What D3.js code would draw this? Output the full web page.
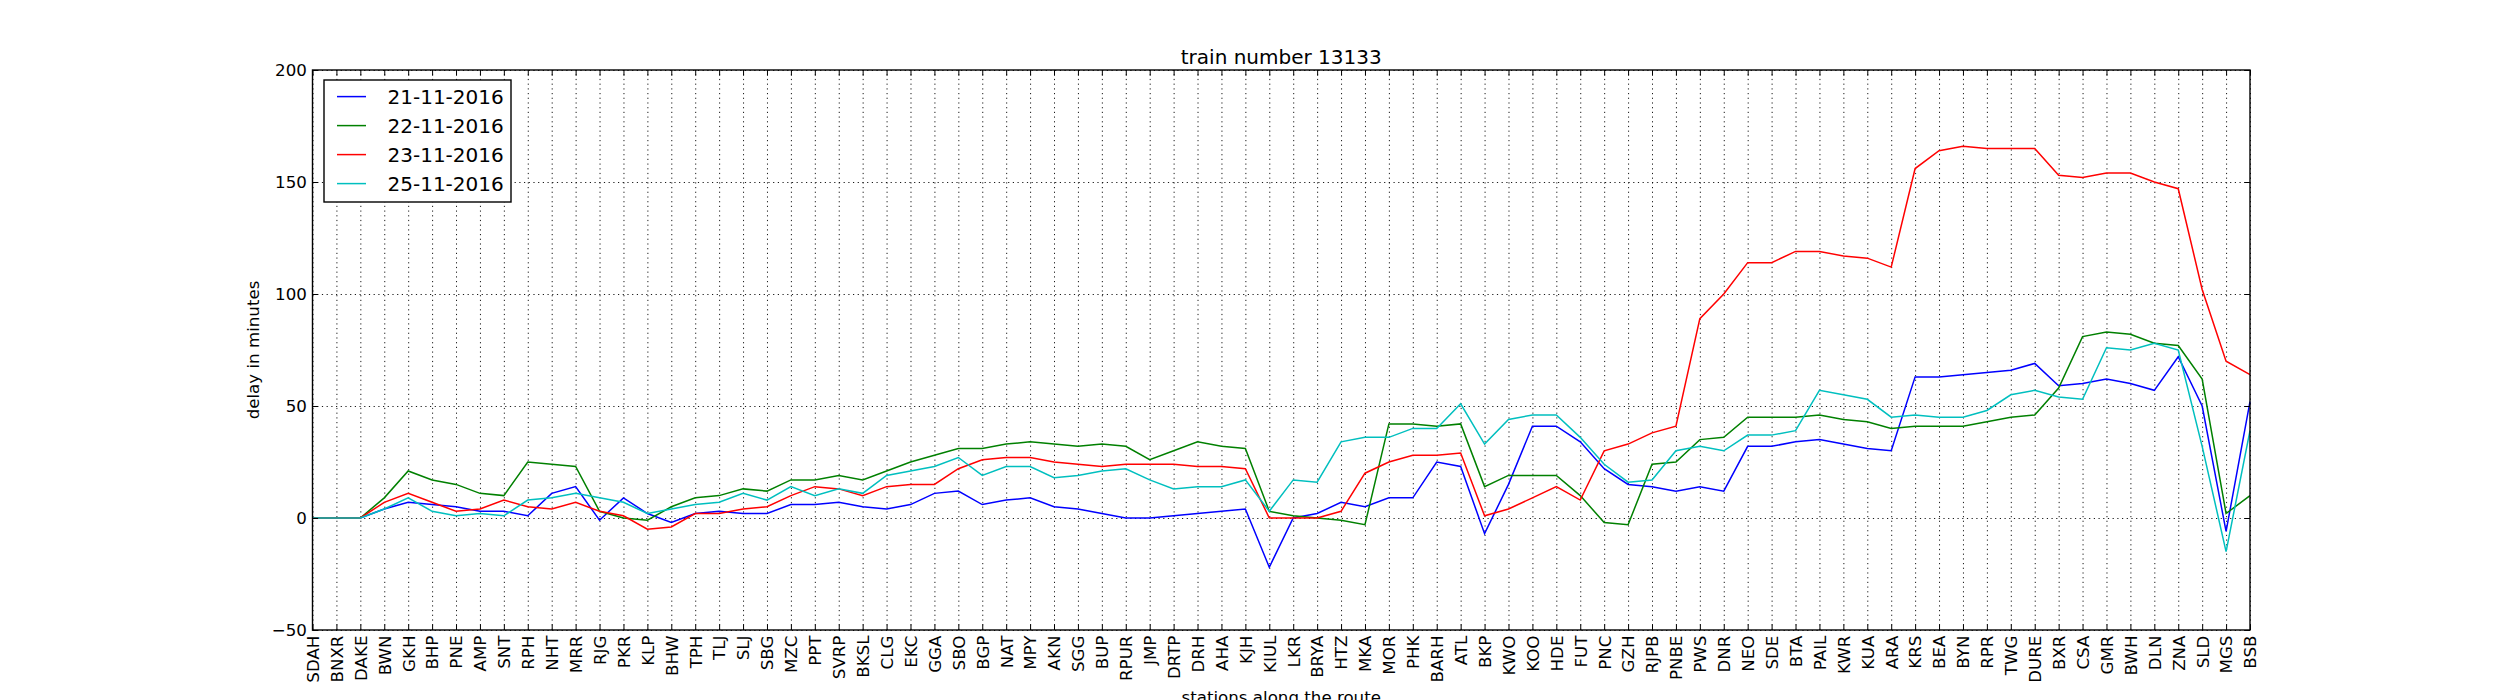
<!DOCTYPE html>
<html>
<head>
<meta charset="utf-8">
<script src="https://cdn.jsdelivr.net/npm/d3@7"></script>
<style>
  body { margin: 0; background: #ffffff; }
  svg { display: block; }
  text { font-family: "DejaVu Sans", sans-serif; }
</style>
</head>
<body>
<svg id="delay-graph" width="2500" height="700"></svg>
<script>
let stations = ["SDAH", "BNXR", "DAKE", "BWN", "GKH", "BHP", "PNE", "AMP", "SNT", "RPH",
  "NHT", "MRR", "RJG", "PKR", "KLP", "BHW", "TPH", "TLJ", "SLJ", "SBG",
  "MZC", "PPT", "SVRP", "BKSL", "CLG", "EKC", "GGA", "SBO", "BGP", "NAT",
  "MPY", "AKN", "SGG", "BUP", "RPUR", "JMP", "DRTP", "DRH", "AHA", "KJH",
  "KIUL", "LKR", "BRYA", "HTZ", "MKA", "MOR", "PHK", "BARH", "ATL", "BKP",
  "KWO", "KOO", "HDE", "FUT", "PNC", "GZH", "RJPB", "PNBE", "PWS", "DNR",
  "NEO", "SDE", "BTA", "PAIL", "KWR", "KUA", "ARA", "KRS", "BEA", "BYN",
  "RPR", "TWG", "DURE", "BXR", "CSA", "GMR", "BWH", "DLN", "ZNA", "SLD",
  "MGS", "BSB"];

let dates = ["21-11-2016", "22-11-2016", "23-11-2016", "25-11-2016"];

let delay_21 = [0, 0, 0, 4, 7, 6, 5, 3, 3, 1,
  11, 14, -1, 9, 2, -2, 2, 3, 2, 2,
  6, 6, 7, 5, 4, 6, 11, 12, 6, 8,
  9, 5, 4, 2, 0, 0, 1, 2, 3, 4,
  -22, 0, 2, 7, 5, 9, 9, 25, 23, -7,
  15, 41, 41, 34, 22, 15, 14, 12, 14, 12,
  32, 32, 34, 35, 33, 31, 30, 63, 63, 64,
  65, 66, 69, 59, 60, 62, 60, 57, 72, 50,
  -6, 52];

let delay_22 = [0, 0, 0, 9, 21, 17, 15, 11, 10, 25,
  24, 23, 3, 0, -1, 5, 9, 10, 13, 12,
  17, 17, 19, 17, 21, 25, 28, 31, 31, 33,
  34, 33, 32, 33, 32, 26, 30, 34, 32, 31,
  3, 1, 0, -1, -3, 42, 42, 41, 42, 14,
  19, 19, 19, 10, -2, -3, 24, 25, 35, 36,
  45, 45, 45, 46, 44, 43, 40, 41, 41, 41,
  43, 45, 46, 58, 81, 83, 82, 78, 77, 62,
  2, 10];

let delay_23 = [0, 0, 0, 7, 11, 7, 3, 4, 8, 5,
  4, 7, 3, 1, -5, -4, 2, 2, 4, 5,
  10, 14, 13, 10, 14, 15, 15, 22, 26, 27,
  27, 25, 24, 23, 24, 24, 24, 23, 23, 22,
  0, 0, 0, 3, 20, 25, 28, 28, 29, 1,
  4, 9, 14, 8, 30, 33, 38, 41, 89, 100,
  114, 114, 119, 119, 117, 116, 112, 156, 164, 166,
  165, 165, 165, 153, 152, 154, 154, 150, 147, 102,
  70, 64];

let delay_25 = [0, 0, 0, 4, 9, 3, 1, 2, 1, 8,
  9, 11, 9, 7, 2, 4, 6, 7, 11, 8,
  14, 10, 13, 11, 19, 21, 23, 27, 19, 23,
  23, 18, 19, 21, 22, 17, 13, 14, 14, 17,
  3, 17, 16, 34, 36, 36, 40, 40, 51, 33,
  44, 46, 46, 36, 24, 16, 17, 30, 32, 30,
  37, 37, 39, 57, 55, 53, 45, 46, 45, 45,
  48, 55, 57, 54, 53, 76, 75, 78, 75, 32,
  -15, 39];

let y_ticks = [-50, 0, 50, 100, 150, 200];

let series = [delay_21, delay_22, delay_23, delay_25];
let colors = ["#0000ff", "#008000", "#ff0000", "#00bfbf"];

let margins = {
  top: 70,
  right: 250,
  bottom: 70,
  left: 312.5
};

let width = 2500 - margins.left - margins.right;
let height = 700 - margins.top - margins.bottom;
let tick_len = 5.6;

let xScale = d3.scalePoint().domain(stations).range([0, width]);
let yScale = d3.scaleLinear().domain([-50, 200]).range([height, 0]);

let graph = d3.select("#delay-graph")
  .append("g")
  .attr("transform", "translate(" + margins.left + "," + margins.top + ")");

// dotted grid
let xGrid = d3.axisBottom(xScale).tickSize(-height).tickFormat("");
let yGrid = d3.axisLeft(yScale).tickValues(y_ticks).tickSize(-width).tickFormat("");

graph.append("g")
  .attr("class", "x grid")
  .attr("transform", "translate(0," + height + ")")
  .call(xGrid);
graph.append("g")
  .attr("class", "y grid")
  .call(yGrid);
graph.selectAll(".grid .domain").remove();
graph.selectAll(".grid line")
  .style("stroke", "#000000")
  .style("stroke-width", 0.9)
  .style("stroke-dasharray", ("1.2,3.5"));

// delay lines
let line = d3.line()
  .x(function(d, i) { return xScale(stations[i]); })
  .y(function(d) { return yScale(d); });

series.forEach(function(values, k) {
  graph.append("path")
    .attr("d", line(values))
    .style("fill", "none")
    .style("stroke", colors[k])
    .style("stroke-width", 1.5)
    .style("stroke-linejoin", "miter");
});

// axes, ticks pointing inwards on all four sides
let xAxis = d3.axisBottom(xScale).tickSizeInner(-tick_len).tickSizeOuter(0).tickPadding(tick_len);
let yAxis = d3.axisLeft(yScale).tickValues(y_ticks).tickSizeInner(-tick_len).tickSizeOuter(0).tickPadding(tick_len);
let xAxisTop = d3.axisTop(xScale).tickSizeInner(-tick_len).tickSizeOuter(0).tickFormat("");
let yAxisRight = d3.axisRight(yScale).tickValues(y_ticks).tickSizeInner(-tick_len).tickSizeOuter(0).tickFormat("");

let gx = graph.append("g")
  .attr("class", "x axis")
  .attr("transform", "translate(0," + height + ")")
  .call(xAxis);
gx.selectAll("text")
  .attr("x", -tick_len)
  .attr("y", 0)
  .attr("dy", "0.35em")
  .attr("transform", "rotate(-90)")
  .style("text-anchor", "end");

graph.append("g")
  .attr("class", "y axis")
  .call(yAxis);
graph.append("g")
  .attr("class", "x axis")
  .call(xAxisTop);
graph.append("g")
  .attr("class", "y axis")
  .attr("transform", "translate(" + width + ",0)")
  .call(yAxisRight);

graph.selectAll(".axis .domain").remove();
graph.selectAll(".axis line")
  .style("stroke", "#000000")
  .style("stroke-width", 1);
graph.selectAll(".axis text")
  .style("font-family", "DejaVu Sans")
  .style("font-size", "16.67px")
  .style("fill", "#000000");

graph.append("rect")
  .attr("x", 0)
  .attr("y", 0)
  .attr("width", width)
  .attr("height", height)
  .style("fill", "none")
  .style("stroke", "#000000")
  .style("stroke-width", 1.4);

// title and axis labels
graph.append("text")
  .attr("x", width / 2)
  .attr("y", -6.5)
  .style("text-anchor", "middle")
  .style("font-size", "20px")
  .text("train number 13133");

graph.append("text")
  .attr("x", width / 2)
  .attr("y", height + 73)
  .style("text-anchor", "middle")
  .style("font-size", "16.67px")
  .text("stations along the route");

graph.append("text")
  .attr("transform", "rotate(-90)")
  .attr("x", -height / 2)
  .attr("y", -53.5)
  .style("text-anchor", "middle")
  .style("font-size", "16.67px")
  .text("delay in minutes");

// legend
let legend = graph.append("g")
  .attr("transform", "translate(11.5,10)");
legend.append("rect")
  .attr("width", 187)
  .attr("height", 122)
  .style("fill", "#ffffff")
  .style("stroke", "#000000")
  .style("stroke-width", 1.4);

let item = legend.selectAll(".legend-item")
  .data(dates)
  .enter()
  .append("g")
  .attr("class", "legend-item")
  .attr("transform", function(d, i) { return "translate(0," + (16.6 + i * 29) + ")"; });
item.append("line")
  .attr("x1", 13)
  .attr("x2", 42)
  .style("stroke", function(d, i) { return colors[i]; })
  .style("stroke-width", 1.5);
item.append("text")
  .attr("x", 63.5)
  .attr("dy", "0.36em")
  .style("font-size", "20px")
  .text(function(d) { return d; });
</script>
</body>
</html>
